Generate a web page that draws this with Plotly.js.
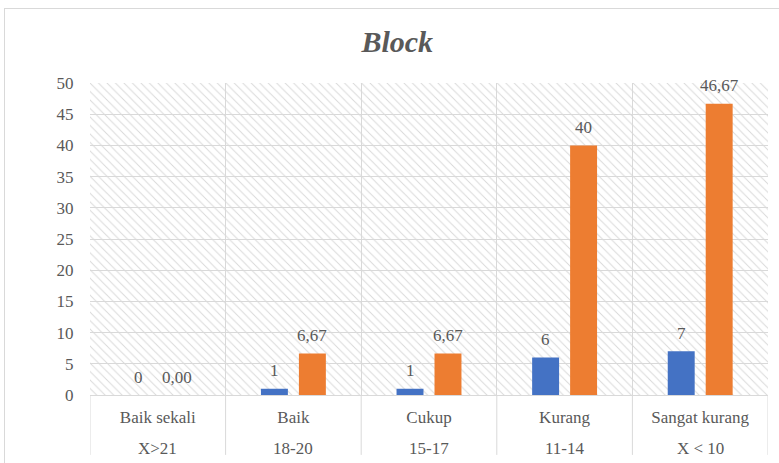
<!DOCTYPE html>
<html>
<head>
<meta charset="utf-8">
<script src="https://cdn.plot.ly/plotly-3.0.1.min.js"></script>
<style>
  html, body { margin: 0; padding: 0; background: #ffffff; overflow: hidden; }
  #chart { width: 779px; height: 463px; position: absolute; left: 0; top: 0; }
  #frame { position: absolute; left: 4px; top: 8px; width: 800px; height: 500px;
           border: 1px solid #d9d9d9; pointer-events: none; }
</style>
</head>
<body>
<div id="chart"></div>
<div id="frame"></div>
<script>
// ---- data ----
const categories = ["Baik sekali", "Baik", "Cukup", "Kurang", "Sangat kurang"];
const scoreRanges = ["X>21", "18-20", "15-17", "11-14", "X < 10"];
const seriesA = [0, 1, 1, 6, 7];
const seriesB = [0, 6.67, 6.67, 40, 46.67];
const labelsA = ["0", "1", "1", "6", "7"];
const labelsB = ["0,00", "6,67", "6,67", "40", "46,67"];
const yMax = 50;

const serif = "Liberation Serif";
const gray = "#595959";
const grid = "#d9d9d9";

// hatched plot background, one cell per category
const bg = {
  type: "bar",
  x: categories,
  y: categories.map(() => yMax),
  width: 1,
  xaxis: "x", yaxis: "y",
  marker: {
    color: "rgba(0,0,0,0)",
    line: { width: 0 },
    pattern: { shape: "\\", size: 6, solidity: 0.16, fgcolor: "#d9d9d9", bgcolor: "rgba(0,0,0,0)" }
  },
  hoverinfo: "skip",
  showlegend: false
};

const trA = {
  type: "bar", x: categories, y: seriesA, xaxis: "x2", yaxis: "y",
  marker: { color: "#4472C4" }, hoverinfo: "skip", showlegend: false
};
const trB = {
  type: "bar", x: categories, y: seriesB, xaxis: "x2", yaxis: "y",
  marker: { color: "#ED7D31" }, hoverinfo: "skip", showlegend: false
};

const annotations = [];
const shapes = [];
const labelFont = { family: serif, size: 17, color: gray };
categories.forEach((c, i) => {
  annotations.push({ x: c, y: seriesA[i], xref: "x2", yref: "y", text: labelsA[i],
    showarrow: false, xshift: -19, yshift: 18, yanchor: "middle", font: labelFont });
  annotations.push({ x: c, y: seriesB[i], xref: "x2", yref: "y", text: labelsB[i],
    showarrow: false, xshift: 19, yshift: 18, yanchor: "middle", font: labelFont });
  // second row of category labels (score range)
  annotations.push({ x: c, y: -0.17, xref: "x", yref: "paper", text: scoreRanges[i],
    showarrow: false, yanchor: "middle", font: labelFont });
});
// category separators extending through the label rows
for (let i = 0; i <= categories.length; i++) {
  shapes.push({ type: "line", xref: "x", yref: "paper", x0: i - 0.5, x1: i - 0.5,
    y0: 0, y1: -0.192, line: { color: grid, width: 1 } });
}

const layout = {
  width: 779, height: 463,
  margin: { l: 90, r: 11, t: 83, b: 68 },
  paper_bgcolor: "#ffffff", plot_bgcolor: "#ffffff",
  font: { family: serif, color: gray },
  title: {
    text: "<b><i>Block</i></b>",
    x: 0.51, xanchor: "center", y: 1 - 41 / 463, yanchor: "middle",
    font: { family: serif, size: 30, color: gray }
  },
  barmode: "group",
  bargap: 0.44,
  bargroupgap: 0.29,
  xaxis: {
    type: "category",
    tickson: "boundaries",
    showgrid: true, gridcolor: grid, gridwidth: 1,
    showline: true, linecolor: grid, linewidth: 1,
    ticks: "", ticklabelstandoff: 7,
    tickfont: labelFont,
    range: [-0.5, 4.5],
    fixedrange: true
  },
  xaxis2: {
    type: "category", overlaying: "x", side: "bottom",
    showticklabels: false, showgrid: false, showline: false, ticks: "",
    range: [-0.5, 4.5], fixedrange: true
  },
  yaxis: {
    range: [0, yMax], dtick: 5, tick0: 0,
    showgrid: true, gridcolor: grid, gridwidth: 1,
    zeroline: true, zerolinecolor: grid, zerolinewidth: 1,
    showline: false, ticks: "outside", ticklen: 12, tickcolor: "rgba(0,0,0,0)",
    tickfont: labelFont,
    fixedrange: true
  },
  annotations: annotations,
  shapes: shapes,
  showlegend: false
};

Plotly.newPlot("chart", [bg, trA, trB], layout, { displayModeBar: false, staticPlot: true });
</script>
</body>
</html>
